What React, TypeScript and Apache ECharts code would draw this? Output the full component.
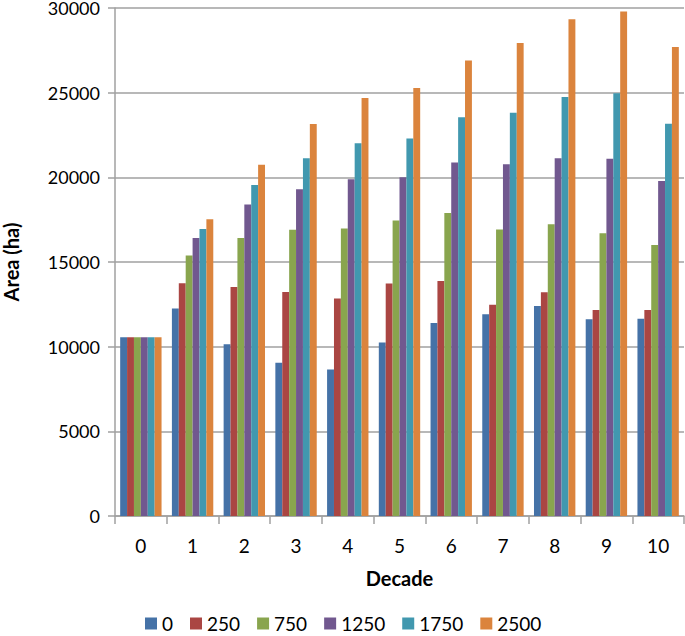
import React, { useEffect, useRef } from "react";
import * as echarts from "echarts";

const decades = ["0", "1", "2", "3", "4", "5", "6", "7", "8", "9", "10"];
const seriesNames = ["0", "250", "750", "1250", "1750", "2500"];
const s0 = [10550, 12250, 10150, 9050, 8650, 10250, 11400, 11920, 12400, 11620, 11650];
const s250 = [10550, 13750, 13530, 13230, 12850, 13730, 13880, 12480, 13220, 12170, 12170];
const s750 = [10550, 15380, 16420, 16900, 16980, 17450, 17900, 16920, 17230, 16700, 16000];
const s1250 = [10550, 16420, 18400, 19300, 19880, 20000, 20870, 20780, 21120, 21100, 19780];
const s1750 = [10550, 16950, 19550, 21120, 22020, 22300, 23550, 23820, 24750, 24970, 23170];
const s2500 = [10550, 17520, 20750, 23150, 24680, 25270, 26900, 27930, 29330, 29800, 27700];
const colors = ["#4572A7", "#AA4643", "#89A54E", "#71588F", "#4198AF", "#DB843D"];
const yTicks = [0, 5000, 10000, 15000, 20000, 25000, 30000];

const FONT = "Lato";

export default function App() {
  const ref = useRef<HTMLDivElement>(null);
  useEffect(() => {
    if (!ref.current) return;
    const chart = echarts.init(ref.current, null, { renderer: "svg" });
    const data = [s0, s250, s750, s1250, s1750, s2500];
    chart.setOption({
      animation: false,
      color: colors,
      textStyle: { fontFamily: FONT },
      grid: { left: 115, right: 1, top: 8, bottom: 120, containLabel: false, outerBoundsMode: "none" },
      legend: {
        left: 145,
        top: 614,
        padding: 0,
        itemWidth: 12,
        itemHeight: 12,
        itemGap: 17,
        icon: "rect",
        textStyle: { fontFamily: FONT, fontSize: 19, lineHeight: 17, color: "#000" },
        data: seriesNames,
      },
      xAxis: {
        type: "category",
        data: decades,
        name: "Decade",
        nameLocation: "middle",
        nameGap: 52,
        nameTextStyle: { fontFamily: FONT, fontSize: 20, fontWeight: "bold", color: "#000" },
        axisLine: { lineStyle: { color: "#A0A0A0", width: 1.5 } },
        axisTick: { show: true, length: 8, lineStyle: { color: "#A0A0A0", width: 1.5 } },
        axisLabel: { fontFamily: FONT, fontSize: 19, color: "#000", margin: 20 },
      },
      yAxis: {
        type: "value",
        min: yTicks[0],
        max: yTicks[yTicks.length - 1],
        interval: 5000,
        name: "Area (ha)",
        nameLocation: "middle",
        nameGap: 95,
        nameRotate: 90,
        nameTextStyle: { fontFamily: FONT, fontSize: 20, lineHeight: 18, fontWeight: "bold", color: "#000" },
        axisLine: { show: true, lineStyle: { color: "#A0A0A0", width: 1.5 } },
        axisTick: { show: true, length: 7, lineStyle: { color: "#A0A0A0", width: 1.5 } },
        splitLine: { lineStyle: { color: "#A0A0A0", width: 1.5 } },
        axisLabel: {
          fontFamily: FONT,
          fontSize: 18,
          lineHeight: 14,
          color: "#000",
          margin: 15,
          formatter: (v: number) => String(v),
        },
      },
      series: seriesNames.map((n, i) => ({
        name: n,
        type: "bar",
        data: data[i],
        barGap: "0%",
        barCategoryGap: "20%",
        itemStyle: { color: colors[i] },
      })),
    });
    return () => chart.dispose();
  }, []);
  return <div ref={ref} style={{ width: 685, height: 636, position: "absolute", left: 0, top: 0 }} />;
}
